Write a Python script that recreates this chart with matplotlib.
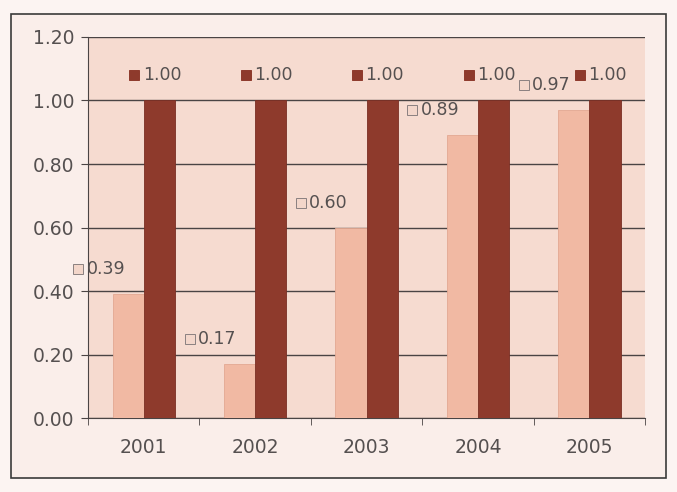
import matplotlib.pyplot as plt
import matplotlib.transforms as mtransforms
import numpy as np
from matplotlib.patches import Rectangle

years = ['2001', '2002', '2003', '2004', '2005']
light_vals = [0.39, 0.17, 0.60, 0.89, 0.97]
dark_vals = [1.00, 1.00, 1.00, 1.00, 1.00]

light_color = '#f1b9a3'
dark_color = '#8e3a2c'
text_color = '#555050'
line_color = '#4a4444'

plt.rcParams['font.family'] = 'DejaVu Sans'

fig = plt.figure(figsize=(6.77, 4.92), dpi=100)
fig.patch.set_facecolor('#fcf4f2')

# outer frame around the chart
frame = Rectangle((0.016, 0.028), 0.968, 0.944, transform=fig.transFigure,
                  facecolor='#faeeea', edgecolor='#3a3a3a', linewidth=1.2, zorder=-1)
fig.patches.append(frame)

ax = fig.add_axes([0.130, 0.150, 0.823, 0.775])
ax.set_zorder(2)
ax.set_facecolor('#f6dbd0')

x = np.arange(len(years))
w = 0.28
ax.bar(x - w / 2, light_vals, w, color=light_color, edgecolor='#e3a892', linewidth=0.6, zorder=3)
ax.bar(x + w / 2, dark_vals, w, color=dark_color, edgecolor='#7a2f24', linewidth=0.6, zorder=3)


def value_label(xc, v, dx, key_face, key_edge):
    # small series key followed by the value, above the bar
    ax.annotate('{:.2f}'.format(v), (xc, v), xytext=(dx, 18), textcoords='offset points',
                ha='left', va='center', fontsize=12.5, color=text_color, zorder=5,
                annotation_clip=False)
    tr = mtransforms.offset_copy(ax.transData, fig=fig, x=dx - 6, y=18, units='points')
    ax.plot([xc], [v], marker='s', ms=6.5, mfc=key_face, mec=key_edge, mew=0.7,
            transform=tr, zorder=5, clip_on=False)


for i, v in enumerate(light_vals):
    value_label(x[i] - w / 2, v, -30, '#f3d6ca', '#8a8080')
for i, v in enumerate(dark_vals):
    value_label(x[i] + w / 2, v, -12, dark_color, dark_color)

ax.set_xlim(-0.5, len(years) - 0.5)
ax.set_ylim(0, 1.2)
ticks = np.arange(0, 1.21, 0.2)
ax.set_yticks(ticks)
ax.set_yticklabels(['{:.2f}'.format(t) for t in ticks])
ax.set_xticks(x)
ax.set_xticklabels(years)
ax.set_xticks(np.arange(-0.5, len(years)), minor=True)

ax.grid(axis='y', color=line_color, linewidth=1.0, zorder=1)
ax.set_axisbelow(True)
ax.tick_params(axis='y', colors=line_color, labelcolor=text_color, labelsize=13.5, length=5, pad=5)
ax.tick_params(axis='x', which='major', length=0, labelcolor=text_color, labelsize=13.5, pad=14)
ax.tick_params(axis='x', which='minor', length=5, color=line_color)

for s in ['top', 'right']:
    ax.spines[s].set_visible(False)
ax.spines['left'].set_color(line_color)
ax.spines['bottom'].set_color(line_color)

fig.savefig('out.png', dpi=100, facecolor=fig.get_facecolor())
